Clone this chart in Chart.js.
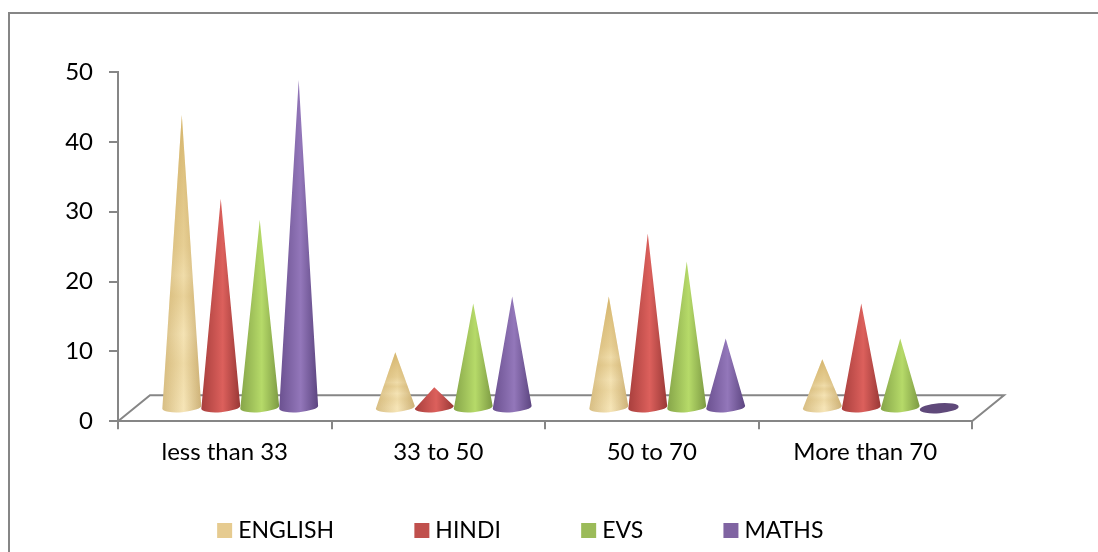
<!DOCTYPE html>
<html>

<head>
  <meta charset="UTF-8">
  <script src="https://cdn.jsdelivr.net/npm/chart.js"></script>
  <title>Marks</title>
  <style>
    html, body { margin: 0; padding: 0; background: #fff; overflow: hidden; }
    .box { position: absolute; left: 8px; top: 12px; width: 1200px; height: 600px; border: 2px solid #868686; }
    .grafic_cont { position: absolute; left: 0; top: 0; width: 1098px; height: 552px; }
  </style>
</head>

<body>
  <div class="box"></div>
  <div class="grafic_cont">
    <canvas id="myChart"></canvas>
  </div>
  <script>
    const categories = ['less than 33', '33 to 50', '50 to 70', 'More than 70'];
    const english = [43, 9, 17, 8];
    const hindi = [31, 4, 26, 16];
    const evs = [28, 16, 22, 11];
    const maths = [48, 17, 11, 0];
    const yTicks = [0, 10, 20, 30, 40, 50];

    const axisColor = '#868686';
    const woodColor = '#E6CB90';
    // left edge, lit middle, right edge of each cone
    const shades = {
      '#E6CB90': ['#d8bf86', '#f8e8bc', '#cdb27a'],
      '#C0504D': ['#a83f3d', '#dc605c', '#993836'],
      '#9BBB59': ['#86a549', '#b6da69', '#7c9a43'],
      '#8064A2': ['#6b5190', '#9377ba', '#5c4580']
    };

    // the bars are drawn as cones, the floor of the chart sits 13px above the axis
    Chart.BarElement.prototype.draw = function (ctx) {
      const rx = this.width / 2;
      const ry = 5;
      const tilt = -0.08;
      const cx = this.x + 15.5;
      const cy = this.base - 13;
      const apex = this.y - 6;
      const color = this.options.backgroundColor;
      const c = shades[color];
      ctx.save();
      if (this.base - this.y < 1) {
        ctx.fillStyle = '#5f497a';
        ctx.beginPath();
        ctx.ellipse(cx, cy, rx, ry, tilt, 0, Math.PI * 2);
        ctx.fill();
        ctx.restore();
        return;
      }
      const grad = ctx.createLinearGradient(cx - rx, 0, cx + rx, 0);
      grad.addColorStop(0, c[0]);
      grad.addColorStop(0.55, c[1]);
      grad.addColorStop(1, c[2]);
      ctx.fillStyle = grad;
      ctx.beginPath();
      ctx.moveTo(cx, apex);
      ctx.lineTo(cx - rx, cy + rx * Math.sin(-tilt));
      ctx.ellipse(cx, cy, rx, ry, tilt, Math.PI, 0, true);
      ctx.closePath();
      ctx.fill();
      if (color === woodColor) {
        // golden wood grain, stronger towards the tip
        const grain = ctx.createLinearGradient(0, apex, 0, cy);
        grain.addColorStop(0, 'rgba(196,156,70,0.65)');
        grain.addColorStop(0.45, 'rgba(206,170,90,0.4)');
        grain.addColorStop(0.55, 'rgba(206,170,90,0.18)');
        grain.addColorStop(0.62, 'rgba(206,170,90,0.34)');
        grain.addColorStop(0.75, 'rgba(206,170,90,0.08)');
        grain.addColorStop(0.85, 'rgba(206,170,90,0.22)');
        grain.addColorStop(1, 'rgba(206,170,90,0.05)');
        ctx.fillStyle = grain;
        ctx.fill();
      }
      ctx.restore();
    };

    const floorPlugin = {
      id: 'floor',
      // the tick labels get clipped to the scale boxes, so open those up
      afterLayout(chart) {
        chart.scales.x.bottom = chart.height;
        chart.scales.y.left = 0;
      },
      beforeDatasetsDraw(chart) {
        const x = chart.scales.x;
        const y = chart.scales.y;
        const ctx = chart.ctx;
        ctx.save();
        ctx.strokeStyle = axisColor;
        ctx.lineWidth = 2;
        ctx.beginPath();
        ctx.moveTo(x.left, y.bottom);
        ctx.lineTo(x.left + 32, y.bottom - 26);
        ctx.lineTo(x.right + 32, y.bottom - 26);
        ctx.lineTo(x.right, y.bottom);
        ctx.stroke();
        ctx.restore();
      }
    };

    const tickFont = { family: 'Lato', size: 24 };
    const legendFont = { family: 'Lato', size: 23 };

    var ctx = document.getElementById('myChart').getContext('2d');
    var chart = new Chart(ctx, {
      type: 'bar',
      data: {
        labels: categories,
        datasets: [
          { label: 'ENGLISH', data: english, backgroundColor: woodColor, borderColor: woodColor, borderWidth: 11 },
          { label: 'HINDI', data: hindi, backgroundColor: '#C0504D', borderColor: '#C0504D', borderWidth: 11 },
          { label: 'EVS', data: evs, backgroundColor: '#9BBB59', borderColor: '#9BBB59', borderWidth: 11 },
          { label: 'MATHS', data: maths, backgroundColor: '#8064A2', borderColor: '#8064A2', borderWidth: 11 }
        ]
      },
      plugins: [floorPlugin],
      options: {
        responsive: true,
        maintainAspectRatio: false,
        animation: false,
        layout: { padding: { left: 74, right: 126, top: 72, bottom: 0 } },
        categoryPercentage: 0.73,
        barPercentage: 1,
        plugins: {
          tooltip: { enabled: false },
          legend: {
            position: 'bottom',
            labels: { boxWidth: 4, boxHeight: 4, padding: 85.8, color: '#000', font: legendFont }
          }
        },
        scales: {
          x: {
            grid: { drawOnChartArea: false, color: axisColor, tickLength: 8, lineWidth: 2 },
            border: { color: axisColor, width: 2 },
            ticks: { color: '#000', font: tickFont, padding: 9, maxRotation: 0 },
            afterFit(scale) { scale.height = 12; }
          },
          y: {
            min: 0,
            max: 50,
            afterBuildTicks(scale) { scale.ticks = yTicks.map(v => ({ value: v })); },
            grid: { drawOnChartArea: false, color: axisColor, tickLength: 9, lineWidth: 2 },
            border: { color: axisColor, width: 2 },
            ticks: { color: '#000', font: tickFont, padding: 16 },
            afterFit(scale) { scale.width = 44; }
          }
        }
      }
    });
  </script>
</body>

</html>
